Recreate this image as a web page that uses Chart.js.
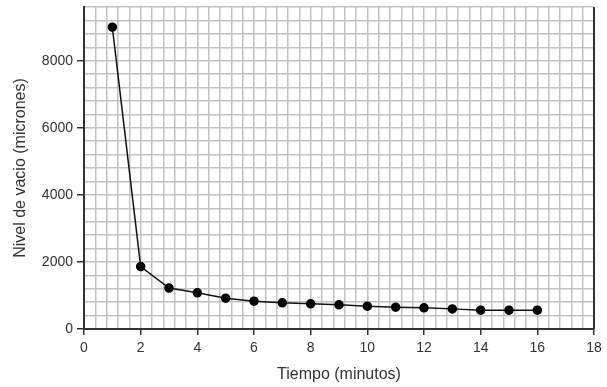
<!DOCTYPE html>
<html>
<head>
<meta charset="utf-8">
<script src="https://cdn.jsdelivr.net/npm/chart.js@4"></script>
<style>
  html, body { margin: 0; padding: 0; background: #fff; }
  #wrap { width: 607px; height: 387px; }
</style>
</head>
<body>
<div id="wrap"><canvas id="vacioChart" width="607" height="387"></canvas></div>
<script>
// Datos
const tiempo = [1, 2, 3, 4, 5, 6, 7, 8, 9, 10, 11, 12, 13, 14, 15, 16];
const nivelVacio = [9000, 1860, 1220, 1080, 920, 830, 780, 750, 720, 680, 650, 630, 600, 560, 560, 560];
const xTickLabels = [0, 2, 4, 6, 8, 10, 12, 14, 16, 18];
const yTickLabels = [0, 2000, 4000, 6000, 8000];

const isLabelX = v => xTickLabels.some(t => Math.abs(t - v) < 1e-6);
const isLabelY = v => yTickLabels.some(t => Math.abs(t - v) < 1e-6);

// right border of the plot area
const rightBorder = {
  id: 'rightBorder',
  afterDraw(chart) {
    const {ctx, chartArea} = chart;
    ctx.save();
    ctx.strokeStyle = '#333';
    ctx.lineWidth = 2;
    ctx.beginPath();
    ctx.moveTo(chartArea.right, chartArea.top);
    ctx.lineTo(chartArea.right, chartArea.bottom);
    ctx.stroke();
    ctx.restore();
  }
};

const ctx = document.getElementById('vacioChart').getContext('2d');
new Chart(ctx, {
  type: 'line',
  data: {
    datasets: [{
      data: tiempo.map((t, i) => ({x: t, y: nivelVacio[i]})),
      borderColor: '#111',
      borderWidth: 1.5,
      pointBackgroundColor: '#000',
      pointBorderColor: '#000',
      pointRadius: 4,
      tension: 0
    }]
  },
  options: {
    responsive: false,
    animation: false,
    layout: {padding: {top: 7, right: 13, left: 0, bottom: 0}},
    plugins: {legend: {display: false}, tooltip: {enabled: false}},
    scales: {
      x: {
        type: 'linear',
        min: 0,
        max: 18,
        afterFit(scale) { scale.height = 58; },
        ticks: {
          stepSize: 0.4,
          autoSkip: false,
          maxRotation: 0,
          padding: 5,
          color: '#333',
          font: {family: 'Liberation Sans, Arial', size: 14},
          callback: v => isLabelX(v) ? String(Math.round(v)) : ''
        },
        grid: {
          color: '#c2c2c2',
          lineWidth: 1.5,
          tickLength: 6,
          tickColor: c => (c.tick && isLabelX(c.tick.value)) ? '#333' : 'rgba(0,0,0,0)',
          tickWidth: 1.5
        },
        border: {color: '#333', width: 2},
        title: {
          display: true,
          text: 'Tiempo (minutos)',
          color: '#333',
          font: {family: 'Liberation Sans, Arial', size: 16},
          padding: {top: 0, bottom: 3}
        }
      },
      y: {
        min: 0,
        max: 9600,
        afterFit(scale) {
          scale.width = 84;
          scale.paddingTop = 0;
          scale.paddingBottom = 0;
        },
        ticks: {
          stepSize: 400,
          autoSkip: false,
          padding: 4,
          color: '#333',
          font: {family: 'Liberation Sans, Arial', size: 14},
          callback: v => isLabelY(v) ? String(Math.round(v)) : ''
        },
        grid: {
          color: '#c2c2c2',
          lineWidth: 1.5,
          tickLength: 7,
          tickColor: c => (c.tick && isLabelY(c.tick.value)) ? '#333' : 'rgba(0,0,0,0)',
          tickWidth: 1.5
        },
        border: {color: '#333', width: 2},
        title: {
          display: true,
          text: 'Nivel de vacio (micrones)',
          color: '#333',
          font: {family: 'Liberation Sans, Arial', size: 16},
          padding: {top: 11, bottom: 0}
        }
      }
    }
  },
  plugins: [rightBorder]
});
</script>
</body>
</html>
